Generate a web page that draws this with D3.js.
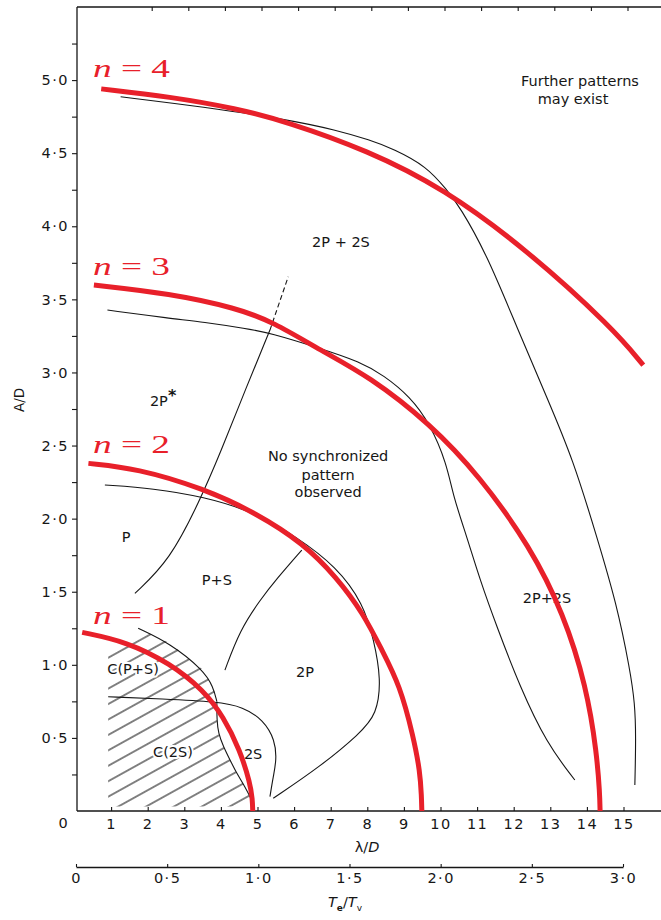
<!DOCTYPE html>
<html>
<head>
<meta charset="utf-8">
<script src="https://cdn.jsdelivr.net/npm/d3@7"></script>
<style>
  html, body { margin: 0; padding: 0; background: #fff; }
  svg { display: block; }
</style>
</head>
<body>
<svg id="chart" width="661" height="920"></svg>
<script>
// ---- axis ticks and labels ----
const lambdaTicks = [1, 2, 3, 4, 5, 6, 7, 8, 9, 10, 11, 12, 13, 14, 15];
const lambdaTickLabels = ["1", "2", "3", "4", "5", "6", "7", "8", "9", "10", "11", "12", "13", "14", "15"];
const lambdaTopTicks = [2, 3, 4, 5, 6, 7, 8, 9, 10, 11, 12, 13, 14, 15];
const ampMajorTicks = [0.5, 1.0, 1.5, 2.0, 2.5, 3.0, 3.5, 4.0, 4.5, 5.0];
const ampMajorLabels = ["0·5", "1·0", "1·5", "2·0", "2·5", "3·0", "3·5", "4·0", "4·5", "5·0"];
const ampMinorTicks = [0.25, 0.75, 1.25, 1.75, 2.25, 2.75, 3.25, 3.75, 4.25, 4.75, 5.25];
const periodTicks = [0, 0.5, 1.0, 1.5, 2.0, 2.5, 3.0];
const periodTickLabels = ["0", "0·5", "1·0", "1·5", "2·0", "2·5", "3·0"];

// ---- synchronisation curves n = 1..4, [λ/D, A/D] ----
const modeN1 = [[0.21, 1.222], [1.43, 1.158], [2.61, 1.01], [3.52, 0.828], [4.07, 0.645],
                [4.52, 0.417], [4.80, 0.19], [4.86, 0.08], [4.87, 0]];
const modeN2 = [[0.38, 2.378], [1.70, 2.344], [3.52, 2.207], [4.98, 2.036], [6.25, 1.831],
                [7.16, 1.60], [7.89, 1.352], [8.40, 1.10], [8.89, 0.86], [9.26, 0.508],
                [9.44, 0.27], [9.48, 0.1], [9.49, 0]];
const modeN3 = [[0.53, 3.598], [2.61, 3.54], [4.43, 3.44], [5.43, 3.345], [6.71, 3.153],
                [8.07, 2.97], [9.71, 2.65], [11.08, 2.287], [12.45, 1.808], [13.36, 1.352],
                [13.99, 0.85], [14.27, 0.395], [14.35, 0.12], [14.36, 0]];
const modeN4 = [[0.73, 4.94], [2.61, 4.886], [4.43, 4.806], [5.80, 4.715], [8.0, 4.52],
                [10.08, 4.26], [12.36, 3.84], [14.72, 3.30], [15.54, 3.05]];
const modeNames = ["1", "2", "3", "4"];
const modeLabelAmp = [1.279, 2.45, 3.67, 5.02];

// ---- regime boundaries, [λ/D, A/D] ----
const edge2P2SUpper = [[1.26, 4.886], [3.52, 4.817], [5.80, 4.731], [7.16, 4.658], [8.07, 4.590],
                       [8.71, 4.53], [9.62, 4.41], [10.17, 4.25], [10.53, 4.133], [11.26, 3.81],
                       [12.1, 3.30], [12.90, 2.834], [13.63, 2.40], [14.27, 1.876], [14.81, 1.42],
                       [15.18, 0.964], [15.31, 0.737], [15.34, 0.508], [15.31, 0.178]];
const edge2P2SLower = [[0.90, 3.427], [2.61, 3.37], [3.52, 3.345], [4.70, 3.30], [5.34, 3.27],
                       [6.71, 3.165], [7.80, 3.073], [8.45, 2.98], [9.17, 2.834], [9.71, 2.65],
                       [10.17, 2.378], [10.35, 2.15], [10.72, 1.876], [11.08, 1.58], [11.54, 1.26],
                       [12.17, 0.85], [12.90, 0.463], [13.67, 0.212]];
const edgeSingle = [[0.83, 2.23], [2.15, 2.207], [3.52, 2.15], [4.89, 2.047], [6.07, 1.876],
                    [7.16, 1.671], [7.89, 1.42], [8.18, 1.17], [8.38, 0.90], [8.26, 0.66],
                    [7.80, 0.531], [6.71, 0.303], [5.43, 0.087]];
const edgePvsPS = [[1.65, 1.489], [2.61, 1.717], [3.43, 2.127], [3.98, 2.447], [4.70, 2.902], [5.34, 3.29]];
const edgePvsPSDashed = [[5.34, 3.29], [5.84, 3.655]];
const edgePSvs2P = [[4.11, 0.964], [4.52, 1.238], [5.07, 1.443], [5.52, 1.587], [6.21, 1.785]];
const edgeCoalescedUpper = [[1.74, 1.25], [2.61, 1.147], [3.52, 0.964], [3.79, 0.85], [3.89, 0.748]];
const edgeCoalescedLower = [[3.89, 0.748], [3.89, 0.622], [3.93, 0.531], [4.07, 0.44], [4.25, 0.349],
                            [4.43, 0.258], [4.66, 0.166], [4.84, 0.075]];
const edge2SLoop = [[0.92, 0.782], [2.4, 0.766], [3.89, 0.748], [4.61, 0.713], [5.16, 0.622],
                    [5.48, 0.486], [5.52, 0.349], [5.43, 0.235], [5.34, 0.098]];
const coalescedRegion = [[0.92, 0.03], [0.92, 1.12], [1.74, 1.25], [2.61, 1.147], [3.52, 0.964],
                         [3.79, 0.85], [3.89, 0.748], [3.89, 0.622], [3.93, 0.531], [4.07, 0.44],
                         [4.25, 0.349], [4.43, 0.258], [4.66, 0.166], [4.84, 0.075], [4.9, 0.03]];

// ---- regime names, anchored in data units ----
const regimeText = ["Further patterns", "may exist", "2P + 2S", "No synchronized", "pattern", "observed",
                    "P", "P+S", "C(P+S)", "C(2S)", "2S", "2P", "2P+2S"];
const regimeLambda = [13.81, 13.62, 7.28, 6.93, 6.93, 6.93, 1.41, 3.89, 1.60, 2.69, 4.88, 6.30, 12.91];
const regimeAmp = [4.959, 4.836, 3.858, 2.394, 2.267, 2.151, 1.837, 1.549, 0.934, 0.366, 0.359, 0.92, 1.426];

// ---- drawing ----
const svg = d3.select("#chart");
const ink = "#161616";
const red = "#e8202a";
const sans = "'DejaVu Sans', sans-serif";

const x = d3.scaleLinear().domain([0, 15]).range([74.5, 623.5]);
const xTop = d3.scaleLinear().domain([0, 15]).range([78.5, 627.5]);
const y = d3.scaleLinear().domain([0, 5.5]).range([811, 7]);
const period = d3.scaleLinear().domain([0, 3]).range([76, 623]);

const frameLeft = 77, frameRight = 661, frameTop = y(5.5), frameBottom = y(0);

const smooth = d3.line().x(d => x(d[0])).y(d => y(d[1])).curve(d3.curveBasis);
const straight = d3.line().x(d => x(d[0])).y(d => y(d[1]));

// hatch pattern for the coalesced regimes
const defs = svg.append("defs");
const pat = defs.append("pattern")
  .attr("id", "hatch").attr("patternUnits", "userSpaceOnUse")
  .attr("width", 200).attr("height", 13.5)
  .attr("patternTransform", "rotate(-29)");
pat.append("line").attr("x1", 0).attr("x2", 200).attr("y1", 6.75).attr("y2", 6.75)
  .attr("stroke", "#000").attr("stroke-width", 1);

svg.append("path").datum(coalescedRegion)
  .attr("d", d => straight(d) + "Z")
  .attr("fill", "url(#hatch)").attr("stroke", "none");

// frame
const frame = svg.append("g").attr("stroke", ink).attr("stroke-width", 1.3).attr("fill", "none");
frame.append("line").attr("x1", frameLeft).attr("x2", frameLeft).attr("y1", frameTop).attr("y2", frameBottom);
frame.append("line").attr("x1", frameLeft).attr("x2", frameRight).attr("y1", frameTop).attr("y2", frameTop);
frame.append("line").attr("x1", frameLeft).attr("x2", frameRight).attr("y1", frameBottom).attr("y2", frameBottom);

function styleAxis(g, size) {
  g.attr("font-family", sans).attr("font-size", size);
  g.selectAll("line").attr("stroke", ink).attr("stroke-width", 1.1);
  g.selectAll("path.domain").attr("stroke", ink).attr("stroke-width", 1.3);
  g.selectAll("text").attr("fill", ink).attr("letter-spacing", 1.5);
}

// bottom λ/D axis
const gx = svg.append("g").attr("transform", `translate(0,${frameBottom})`)
  .call(d3.axisBottom(x).tickValues(lambdaTicks)
    .tickFormat((d, i) => lambdaTickLabels[i]).tickSizeInner(-4).tickSizeOuter(0).tickPadding(8));
gx.select("path.domain").remove();
styleAxis(gx, 14.5);

// top ticks
const gt = svg.append("g").attr("transform", `translate(0,${frameTop})`)
  .call(d3.axisTop(xTop).tickValues(lambdaTopTicks).tickFormat("").tickSizeInner(-4).tickSizeOuter(0));
gt.select("path.domain").remove();
styleAxis(gt, 14.5);

// left A/D axis
const gy = svg.append("g").attr("transform", `translate(${frameLeft},0)`)
  .call(d3.axisLeft(y).tickValues(ampMajorTicks)
    .tickFormat((d, i) => ampMajorLabels[i]).tickSize(5).tickPadding(3));
gy.select("path.domain").remove();
styleAxis(gy, 14.5);
const gyMinor = svg.append("g").attr("transform", `translate(${frameLeft},0)`)
  .call(d3.axisLeft(y).tickValues(ampMinorTicks).tickFormat("").tickSize(5));
gyMinor.select("path.domain").remove();
styleAxis(gyMinor, 14.5);

// shared origin label
svg.append("text").attr("x", 63).attr("y", frameBottom + 12).attr("dy", "0.35em")
  .attr("text-anchor", "middle").attr("font-family", sans).attr("font-size", 14.5)
  .attr("fill", ink).text("0");

// period ratio axis
const gp = svg.append("g").attr("transform", "translate(0,867)")
  .call(d3.axisBottom(period).tickValues(periodTicks)
    .tickFormat((d, i) => periodTickLabels[i]).tickSizeInner(-3).tickSizeOuter(0).tickPadding(6));
styleAxis(gp, 14.5);

// axis titles
const lamTitle = svg.append("text").attr("x", 367).attr("y", 852)
  .attr("text-anchor", "middle").attr("font-family", sans).attr("font-size", 14.5).attr("fill", ink);
lamTitle.append("tspan").text("λ/");
lamTitle.append("tspan").attr("font-style", "italic").text("D");

const perTitle = svg.append("text").attr("x", 345).attr("y", 907)
  .attr("text-anchor", "middle").attr("font-family", sans).attr("font-size", 14.5).attr("fill", ink);
perTitle.append("tspan").attr("font-style", "italic").text("T");
perTitle.append("tspan").attr("font-size", 9).attr("dy", 4).attr("font-weight", "bold").text("e");
perTitle.append("tspan").attr("dy", -4).text("/");
perTitle.append("tspan").attr("font-style", "italic").text("T");
perTitle.append("tspan").attr("font-size", 9).attr("dy", 4).text("v");

svg.append("text").attr("transform", "translate(24,400) rotate(-90)")
  .attr("text-anchor", "middle").attr("font-family", sans).attr("font-size", 13.5)
  .attr("fill", ink).text("A/D");

// regime boundaries
const edges = svg.append("g").attr("fill", "none").attr("stroke", ink).attr("stroke-width", 1.1);
[edge2P2SUpper, edge2P2SLower, edgeSingle, edgePvsPS, edgePSvs2P,
 edgeCoalescedUpper, edgeCoalescedLower, edge2SLoop].forEach(pts => {
  edges.append("path").datum(pts).attr("d", smooth);
});
edges.append("path").datum(edgePvsPSDashed).attr("d", straight).attr("stroke-dasharray", "5,3");

// regime names
const names = svg.append("g").attr("font-family", sans).attr("font-size", 14.5).attr("fill", ink)
  .attr("text-anchor", "middle");
regimeText.forEach((t, i) => {
  names.append("text").attr("x", x(regimeLambda[i])).attr("y", y(regimeAmp[i]))
    .attr("stroke", "#fff").attr("stroke-width", 4).attr("paint-order", "stroke")
    .attr("stroke-linejoin", "round").text(t);
});
// 2P* (asterisk raised)
const star = names.append("text").attr("x", x(2.06)).attr("y", y(2.77)).attr("text-anchor", "start");
star.append("tspan").text("2P");
star.append("tspan").attr("dy", -5).attr("font-size", 16).attr("font-weight", "bold").text("*");

// n = 1..4 curves
const modes = [modeN1, modeN2, modeN3, modeN4];
const reds = svg.append("g").attr("fill", "none").attr("stroke", red).attr("stroke-width", 5)
  .attr("stroke-linecap", "butt");
modes.forEach(pts => reds.append("path").datum(pts).attr("d", smooth));

const redLabels = svg.append("g").attr("font-family", "'Liberation Serif', 'DejaVu Serif', serif")
  .attr("font-size", 25).attr("fill", red);
modeNames.forEach((nm, i) => {
  const t = redLabels.append("text").attr("x", x(0.505)).attr("y", y(modeLabelAmp[i]))
    .attr("textLength", 77).attr("lengthAdjust", "spacingAndGlyphs");
  t.append("tspan").attr("font-style", "italic").text("n");
  t.append("tspan").text(" = " + nm);
});
</script>
</body>
</html>
